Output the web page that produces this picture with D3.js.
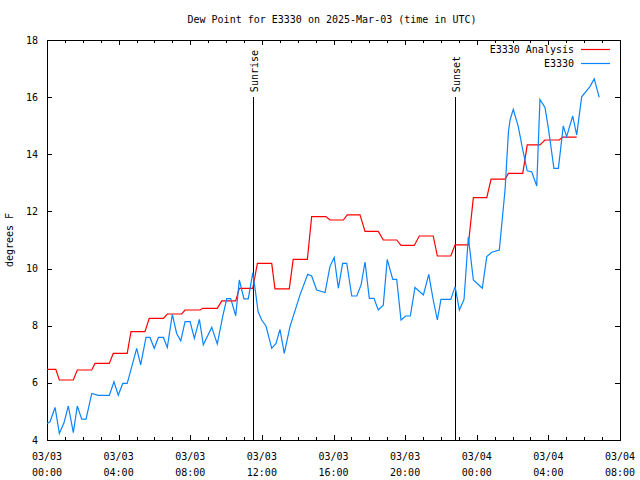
<!DOCTYPE html>
<html><head><meta charset="utf-8">
<script src="https://cdn.jsdelivr.net/npm/d3@7"></script>
<style>
html,body{margin:0;padding:0;background:#fff;}
text{font-family:"DejaVu Sans Mono","Liberation Mono",monospace;font-size:10px;fill:#000;}
</style></head>
<body><svg id="c" width="640" height="480"></svg>
<script>
const title = "Dew Point for E3330 on 2025-Mar-03 (time in UTC)";
const yLabel = "degrees F";
const startTime = "2025-03-03T00:00:00Z";
const endTime = "2025-03-04T08:00:00Z";
const yTicks = [4, 6, 8, 10, 12, 14, 16, 18];
const seriesNames = ["E3330 Analysis", "E3330"];
// hours after 2025-03-03 00:00 UTC
const analysisHours = [0,0.49,0.69,1.47,1.69,2.5,2.68,3.48,3.7,4.48,4.69,5.47,5.71,6.5,6.72,7.52,7.71,8.55,8.7,9.51,9.76,10.54,10.74,11.49,11.75,12.55,12.73,13.53,13.75,14.54,14.78,15.58,15.8,16.55,16.77,17.48,17.76,18.5,18.78,19.53,19.77,20.51,20.79,21.57,21.8,22.55,22.79,23.53,23.81,24.56,24.8,25.58,25.77,26.57,26.82,27.53,27.81,28.61,28.8,29.58];
const analysisValues = [6.47,6.47,6.1,6.1,6.45,6.45,6.68,6.68,7.03,7.03,7.79,7.79,8.26,8.26,8.41,8.41,8.55,8.55,8.61,8.61,8.87,8.87,9.31,9.31,10.18,10.18,9.29,9.29,10.32,10.32,11.82,11.82,11.7,11.7,11.88,11.88,11.3,11.3,11.0,11.0,10.81,10.81,11.14,11.14,10.44,10.44,10.83,10.83,12.48,12.48,13.13,13.13,13.33,13.33,14.33,14.33,14.5,14.5,14.6,14.6];
const obsHours = [0,0.17,0.45,0.69,0.95,1.19,1.47,1.69,1.94,2.18,2.5,2.86,3.48,3.74,3.98,4.23,4.48,5.01,5.23,5.53,5.75,5.99,6.22,6.5,6.72,7.0,7.24,7.47,7.71,7.99,8.23,8.51,8.73,9.2,9.51,9.81,10.04,10.26,10.54,10.74,11.0,11.24,11.49,11.62,11.79,11.99,12.23,12.55,12.79,13.01,13.25,13.57,14.13,14.56,14.78,15.06,15.53,15.8,16.04,16.27,16.51,16.74,17.02,17.3,17.54,17.76,18.0,18.26,18.5,18.78,19.0,19.31,19.53,19.77,20.03,20.29,20.55,21.02,21.32,21.57,21.8,22.0,22.55,22.79,23.03,23.29,23.53,23.81,24.31,24.56,24.84,25.26,25.58,25.77,25.86,26.04,26.32,26.57,26.82,27.07,27.35,27.53,27.81,28.0,28.31,28.56,28.83,29.02,29.36,29.58,29.86,30.14,30.32,30.56,30.84];
const obsValues = [4.58,4.64,5.14,4.23,4.6,5.19,4.26,5.19,4.73,4.73,5.63,5.56,5.56,6.04,5.57,5.98,5.98,7.21,6.63,7.59,7.59,7.21,7.59,7.59,7.24,8.4,7.73,7.47,8.14,8.14,7.56,8.22,7.33,7.94,7.36,8.32,8.95,8.95,8.35,9.6,8.94,8.94,9.85,9.3,8.49,8.2,7.99,7.21,7.38,7.87,7.03,7.97,9.08,9.8,9.74,9.25,9.16,10.07,10.39,9.31,10.18,10.18,9.04,9.04,9.43,10.23,8.96,8.96,8.55,8.72,10.32,9.62,9.62,8.2,8.34,8.34,9.34,9.08,9.8,8.9,8.2,8.92,8.92,9.37,8.55,8.92,11.1,9.6,9.31,10.42,10.57,10.65,12.75,14.79,15.2,15.57,14.97,14.15,13.42,13.39,12.89,15.92,15.64,14.91,13.51,13.51,14.99,14.62,15.34,14.68,16.01,16.23,16.37,16.64,15.99];
const sunHours = [11.52, 22.8];
const sunLabels = ["Sunrise", "Sunset"];
const sunTopValue = 16;
const seriesColors = ["#ff0000", "#0a84ff"];

const svg = d3.select("#c");
const m = {l:47, r:620, t:40, b:440};
const t0 = new Date(startTime);
const toDate = h => new Date(t0.getTime() + h*3600000);
const x = d3.scaleUtc().domain([t0, new Date(endTime)]).range([m.l, m.r]);
const y = d3.scaleLinear().domain([4, 18]).range([m.b, m.t]);

// frame
svg.append("rect").attr("x", m.l+0.5).attr("y", m.t+0.5).attr("width", m.r-m.l).attr("height", m.b-m.t)
  .attr("fill","none").attr("stroke","#000").attr("stroke-width",1);

const majors = d3.utcHour.every(4).range(t0, new Date(new Date(endTime).getTime()+1));
const minors = d3.utcHour.every(1).range(t0, new Date(endTime));
const g = svg.append("g").attr("stroke","#000").attr("stroke-width",1).attr("shape-rendering","crispEdges");
minors.forEach(d=>{
  const xx = Math.round(x(d))+0.5;
  g.append("line").attr("x1",xx).attr("x2",xx).attr("y1",m.b).attr("y2",m.b-3);
  g.append("line").attr("x1",xx).attr("x2",xx).attr("y1",m.t).attr("y2",m.t+3);
});
majors.forEach(d=>{
  const xx = Math.round(x(d))+0.5;
  g.append("line").attr("x1",xx).attr("x2",xx).attr("y1",m.b).attr("y2",m.b-5);
  g.append("line").attr("x1",xx).attr("x2",xx).attr("y1",m.t).attr("y2",m.t+5);
});
yTicks.forEach(v=>{
  const yy = Math.round(y(v))+0.5;
  g.append("line").attr("x1",m.l).attr("x2",m.l+5).attr("y1",yy).attr("y2",yy);
  g.append("line").attr("x1",m.r).attr("x2",m.r-5).attr("y1",yy).attr("y2",yy);
});
const fDate = d3.utcFormat("%m/%d"), fTime = d3.utcFormat("%H:%M");
majors.forEach(d=>{
  const xx = x(d);
  svg.append("text").attr("x",xx).attr("y",460).attr("text-anchor","middle").text(fDate(d));
  svg.append("text").attr("x",xx).attr("y",476).attr("text-anchor","middle").text(fTime(d));
});
yTicks.forEach(v=>{
  svg.append("text").attr("x",38).attr("y",y(v)).attr("dy","0.35em").attr("text-anchor","end").text(v);
});
svg.append("text").attr("x",332).attr("y",23).attr("text-anchor","middle").text(title);
svg.append("text").attr("transform","translate(13,240) rotate(-90)").attr("text-anchor","middle").text(yLabel);

// sunrise / sunset
sunHours.forEach((h,i)=>{
  const xx = Math.round(x(toDate(h)))+0.5;
  svg.append("line").attr("x1",xx).attr("x2",xx).attr("y1",y(sunTopValue)).attr("y2",m.b)
    .attr("stroke","#000").attr("stroke-width",1).attr("shape-rendering","crispEdges");
  svg.append("text").attr("transform",`translate(${xx+4},${y(sunTopValue)-5}) rotate(-90)`)
    .attr("text-anchor","start").text(sunLabels[i]);
});

const line = d3.line().x(d=>x(toDate(d[0]))).y(d=>y(d[1]));
const aData = analysisHours.map((h,i)=>[h, analysisValues[i]]);
const oData = obsHours.map((h,i)=>[h, obsValues[i]]);
svg.append("path").datum(aData).attr("d",line).attr("fill","none").attr("stroke",seriesColors[0]).attr("stroke-width",1.2);
svg.append("path").datum(oData).attr("d",line).attr("fill","none").attr("stroke",seriesColors[1]).attr("stroke-width",1.2);

// legend
seriesNames.forEach((n,i)=>{
  const yy = 49 + i*14;
  svg.append("text").attr("x",574).attr("y",yy).attr("dy","0.35em").attr("text-anchor","end").text(n);
  svg.append("line").attr("x1",581).attr("x2",610).attr("y1",yy+0.5).attr("y2",yy+0.5)
    .attr("stroke",seriesColors[i]).attr("stroke-width",1.2);
});
</script></body></html>
